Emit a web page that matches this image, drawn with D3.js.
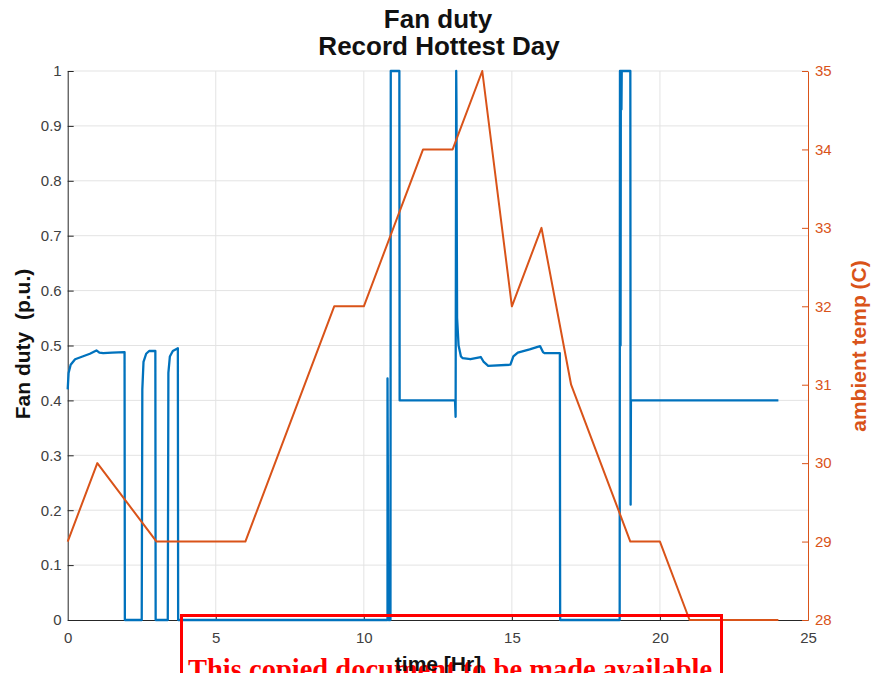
<html>
<head>
<meta charset="utf-8">
<script src="https://d3js.org/d3.v7.min.js"></script>
<style>
  body { margin: 0; background: #fff; }
  text { font-family: "Liberation Sans", Arial, sans-serif; }
</style>
</head>
<body>
<svg id="chart"></svg>
<script>
// ambient temperature (right axis)
var tempHours  = [0, 1, 3, 6, 9, 10, 12, 13, 14, 15, 16, 17, 19, 20, 21, 24];
var tempValues = [29, 30, 29, 29, 32, 32, 34, 34, 35, 32, 33, 31, 29, 29, 28, 28];

// fan duty (left axis)
var dutyHours = [
  0, 0.03, 0.1, 0.25, 0.5, 0.75, 0.97, 1.07, 1.2, 1.5, 1.92, 1.93,
  2.5, 2.52, 2.56, 2.65, 2.75, 2.96, 2.97,
  3.38, 3.40, 3.45, 3.55, 3.72, 3.73,
  10.8, 10.8, 10.83, 10.9, 10.91, 11.2, 11.21,
  13.08, 13.1, 13.12, 13.13, 13.14, 13.15, 13.2, 13.28, 13.34, 13.6, 13.95, 14.05, 14.2, 14.95,
  15.05, 15.2, 15.6, 15.95, 16.05, 16.1, 16.62, 16.63,
  18.64, 18.65, 18.67, 18.68, 18.7, 18.71, 19.0, 19.01, 19.02, 24
];
var dutyValues = [
  0.42, 0.45, 0.465, 0.475, 0.48, 0.485, 0.491, 0.487, 0.486, 0.487, 0.488, 0,
  0, 0.42, 0.47, 0.485, 0.49, 0.49, 0,
  0, 0.45, 0.48, 0.49, 0.495, 0,
  0, 0.44, 0, 0, 1, 1, 0.4,
  0.4, 0.37, 1, 0.93, 0.7, 0.55, 0.5, 0.48, 0.477, 0.475, 0.479, 0.47, 0.463, 0.465,
  0.48, 0.487, 0.493, 0.499, 0.488, 0.486, 0.486, 0,
  0, 1, 0.5, 1, 0.93, 1, 1, 0.21, 0.4, 0.4
];

var xTicks = [0, 5, 10, 15, 20, 25];
var dutyTicks = [0, 0.1, 0.2, 0.3, 0.4, 0.5, 0.6, 0.7, 0.8, 0.9, 1];
var tempTicks = [28, 29, 30, 31, 32, 33, 34, 35];

var width = 871, height = 673;
var plotLeft = 67.7, plotRight = 808, plotTop = 71, plotBottom = 620;
var blue = "#0072BD", orange = "#D95319", axisColor = "#262626";

var svg = d3.select("#chart").attr("width", width).attr("height", height);
svg.append("rect").attr("width", width).attr("height", height).attr("fill", "#fff");

var x = d3.scaleLinear().domain([0, 25]).range([plotLeft, plotRight]);
var yL = d3.scaleLinear().domain([0, 1]).range([plotBottom, plotTop]);
var yR = d3.scaleLinear().domain([28, 35]).range([plotBottom, plotTop]);

// grid
var grid = svg.append("g").attr("stroke", "#e3e3e3").attr("stroke-width", 1);
grid.selectAll("line.v").data(xTicks.slice(1, -1)).enter().append("line")
  .attr("x1", d => x(d)).attr("x2", d => x(d)).attr("y1", plotTop).attr("y2", plotBottom);
grid.selectAll("line.h").data(dutyTicks.slice(1)).enter().append("line")
  .attr("x1", plotLeft).attr("x2", plotRight).attr("y1", d => yL(d)).attr("y2", d => yL(d));

// axes
var xAxis = svg.append("g").attr("transform", "translate(0," + plotBottom + ")")
  .call(d3.axisBottom(x).tickValues(xTicks).tickSizeInner(-6).tickSizeOuter(0).tickPadding(12));
var lAxis = svg.append("g").attr("transform", "translate(" + plotLeft + ",0)")
  .call(d3.axisLeft(yL).tickValues(dutyTicks).tickFormat(d3.format("~g")).tickSizeInner(-6).tickSizeOuter(0).tickPadding(6));
var rAxis = svg.append("g").attr("transform", "translate(" + plotRight + ",0)")
  .call(d3.axisRight(yR).tickValues(tempTicks).tickFormat(d3.format("d")).tickSizeInner(-6).tickSizeOuter(0).tickPadding(7));

[xAxis, lAxis].forEach(function (a) {
  a.select(".domain").attr("stroke", axisColor);
  a.selectAll(".tick line").attr("stroke", axisColor);
  a.selectAll(".tick text").attr("fill", "#404040").style("font-size", "15px");
});
xAxis.selectAll(".tick").filter(d => d === 0 || d === 25).select("line").remove();
rAxis.select(".domain").attr("stroke", orange);
rAxis.selectAll(".tick line").attr("stroke", orange);
rAxis.selectAll(".tick text").attr("fill", orange).style("font-size", "15px");
svg.selectAll(".tick text").style("font-family", "'Liberation Sans', Arial, sans-serif");

// lines
var dutyLine = d3.line().x(d => x(d[0])).y(d => yL(d[1]));
var tempLine = d3.line().x(d => x(d[0])).y(d => yR(d[1]));

svg.append("path").datum(d3.zip(dutyHours, dutyValues))
  .attr("d", dutyLine).attr("fill", "none").attr("stroke", blue)
  .attr("stroke-width", 2.3).attr("stroke-linejoin", "round");
svg.append("path").datum(d3.zip(tempHours, tempValues))
  .attr("d", tempLine).attr("fill", "none").attr("stroke", orange)
  .attr("stroke-width", 2).attr("stroke-linejoin", "round");

// titles
svg.append("text").attr("x", 438).attr("y", 28).attr("text-anchor", "middle")
  .style("font-size", "26px").style("font-weight", "bold").attr("fill", "#111").text("Fan duty");
svg.append("text").attr("x", 439).attr("y", 55).attr("text-anchor", "middle")
  .style("font-size", "26px").style("font-weight", "bold").attr("fill", "#111").text("Record Hottest Day");

svg.append("text").attr("transform", "translate(30,344) rotate(-90)").attr("text-anchor", "middle")
  .style("font-size", "21px").style("font-weight", "bold").style("white-space", "pre")
  .attr("fill", "#111").text("Fan duty  (p.u.)");
svg.append("text").attr("transform", "translate(866,346) rotate(-90)").attr("text-anchor", "middle")
  .style("font-size", "21px").style("font-weight", "bold")
  .attr("fill", orange).text("ambient temp (C)");

// watermark box
svg.append("rect").attr("x", 181.5).attr("y", 615.5).attr("width", 540).attr("height", 100)
  .attr("fill", "none").attr("stroke", "#ff0000").attr("stroke-width", 3);
svg.append("text").attr("x", 188).attr("y", 679)
  .style("font-family", "'Liberation Serif', 'Times New Roman', serif")
  .style("font-size", "28.5px").style("font-weight", "bold")
  .attr("fill", "#ff0000").text("This copied document to be made available");

svg.append("text").attr("x", 438).attr("y", 671).attr("text-anchor", "middle")
  .style("font-size", "21px").style("font-weight", "bold").attr("fill", "#111").text("time [Hr]");
</script>
</body>
</html>
